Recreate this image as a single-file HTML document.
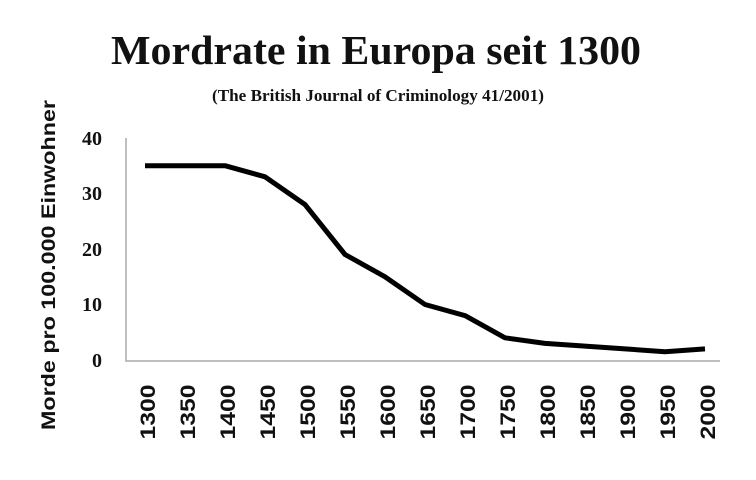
<!DOCTYPE html>
<html><head><meta charset="utf-8"><style>body{margin:0;background:#fff}</style></head>
<body>
<svg width="756" height="475" xmlns="http://www.w3.org/2000/svg">
<rect width="756" height="475" fill="#fff"/>
<text x="376" y="64" text-anchor="middle" font-family="Liberation Serif, serif" font-weight="bold" font-size="41" textLength="530" lengthAdjust="spacingAndGlyphs" fill="#111">Mordrate in Europa seit 1300</text>
<text x="378" y="101" text-anchor="middle" font-family="Liberation Serif, serif" font-weight="bold" font-size="17" textLength="332" lengthAdjust="spacingAndGlyphs" fill="#111">(The British Journal of Criminology 41/2001)</text>
<text transform="translate(55,265) rotate(-90)" text-anchor="middle" font-family="Liberation Sans, sans-serif" font-weight="bold" font-size="19" textLength="330" lengthAdjust="spacingAndGlyphs" fill="#111">Morde pro 100.000  Einwohner</text>
<g font-family="Liberation Serif, serif" font-weight="bold" font-size="20" fill="#111" text-anchor="end">
<text x="102" y="145">40</text><text x="102" y="200">30</text><text x="102" y="256">20</text><text x="102" y="311">10</text><text x="102" y="367">0</text>
</g>
<polyline points="126,138 126,361 720,361" fill="none" stroke="#aaa" stroke-width="1.5"/>
<polyline fill="none" stroke="#000" stroke-width="5" stroke-linejoin="round" points="145,165.7 185,165.7 225,165.7 265,176.8 305,204.6 345,254.5 385,276.8 425,304.5 465,315.6 505,337.8 545,343.4 585,346.1 625,348.9 665,351.7 705,348.9"/>
<g font-family="Liberation Sans, sans-serif" font-weight="bold" font-size="21" fill="#111" text-anchor="middle">
<text transform="translate(155,412) rotate(-90)" textLength="55" lengthAdjust="spacingAndGlyphs">1300</text>
<text transform="translate(195,412) rotate(-90)" textLength="55" lengthAdjust="spacingAndGlyphs">1350</text>
<text transform="translate(235,412) rotate(-90)" textLength="55" lengthAdjust="spacingAndGlyphs">1400</text>
<text transform="translate(275,412) rotate(-90)" textLength="55" lengthAdjust="spacingAndGlyphs">1450</text>
<text transform="translate(315,412) rotate(-90)" textLength="55" lengthAdjust="spacingAndGlyphs">1500</text>
<text transform="translate(355,412) rotate(-90)" textLength="55" lengthAdjust="spacingAndGlyphs">1550</text>
<text transform="translate(395,412) rotate(-90)" textLength="55" lengthAdjust="spacingAndGlyphs">1600</text>
<text transform="translate(435,412) rotate(-90)" textLength="55" lengthAdjust="spacingAndGlyphs">1650</text>
<text transform="translate(475,412) rotate(-90)" textLength="55" lengthAdjust="spacingAndGlyphs">1700</text>
<text transform="translate(515,412) rotate(-90)" textLength="55" lengthAdjust="spacingAndGlyphs">1750</text>
<text transform="translate(555,412) rotate(-90)" textLength="55" lengthAdjust="spacingAndGlyphs">1800</text>
<text transform="translate(595,412) rotate(-90)" textLength="55" lengthAdjust="spacingAndGlyphs">1850</text>
<text transform="translate(635,412) rotate(-90)" textLength="55" lengthAdjust="spacingAndGlyphs">1900</text>
<text transform="translate(675,412) rotate(-90)" textLength="55" lengthAdjust="spacingAndGlyphs">1950</text>
<text transform="translate(715,412) rotate(-90)" textLength="55" lengthAdjust="spacingAndGlyphs">2000</text>
</g>
</svg>
</body></html>
